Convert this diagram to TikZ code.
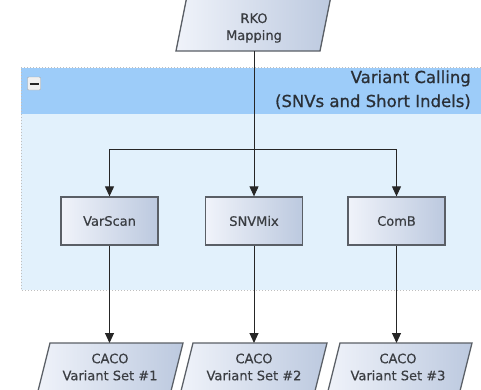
\documentclass[tikz,border=0pt]{standalone}
\usepackage{fontspec}
\setmainfont{DejaVu Sans}
\newfontfamily\hdrfont[FakeBold=0.8]{DejaVu Sans}
\newfontfamily\nodefont[FakeBold=0.4]{DejaVu Sans}
\usetikzlibrary{arrows.meta,calc}
\definecolor{hdr}{HTML}{9DCCF9}
\definecolor{bodyc}{HTML}{E2F1FC}
\definecolor{boxl}{HTML}{F0F3FA}
\definecolor{boxr}{HTML}{BCC9DF}
\definecolor{edge}{HTML}{5A5F66}
\definecolor{txt}{HTML}{3A3D42}
\definecolor{hdrtxt}{HTML}{2A2F36}
\tikzset{
  stepbox/.style={draw=edge, line width=1.3pt, left color=boxl, right color=boxr,
    minimum width=97pt, minimum height=48pt, inner sep=0pt,
    font=\nodefont\fontsize{13}{17}\selectfont, text=txt},
  paratext/.style={inner sep=0pt, align=center, font=\nodefont\fontsize{13}{17}\selectfont, text=txt},
  parashape/.style={draw=edge, line width=1.3pt, left color=boxl, right color=boxr},
  conn/.style={draw=black!85, line width=1pt},
  arr/.style={conn, -{Triangle[width=9pt,length=10pt]}},
  hdrtext/.style={inner sep=0pt, anchor=base east, font=\hdrfont\fontsize{16.5}{20}\selectfont, text=hdrtxt},
}
\begin{document}
\begin{tikzpicture}[x=1pt,y=-1pt]
\useasboundingbox (0,0) rectangle (481,389);
% group container
\fill[bodyc] (21,114) rectangle (490,290);
\fill[hdr] (21,68) rectangle (490,114);
\draw[gray!50, dotted, line width=1pt] (490,67) -- (21,67) -- (21,290) -- (490,290);
\node[draw=gray!70, fill=gray!12, rounded corners=1pt, minimum size=13pt, inner sep=0pt] (collapse) at (34,83.5) {};
\draw[line width=2pt, black!85] ($(collapse.center)+(-4.5,0)$) -- ($(collapse.center)+(4.5,0)$);
\node[hdrtext] (title1) at (471,83) {Variant Calling};
\node[hdrtext] (title2) at (471,107) {(SNVs and Short Indels)};
% RKO mapping
\path[parashape] (176,51) -- (320,51) -- (332.2,-10) -- (188.2,-10) -- cycle;
\node[paratext] (rko) at (254,28) {RKO\\Mapping};
\coordinate (rkoB) at (254,51);
% tools
\node[stepbox] (var) at (109.5,221) {VarScan};
\node[stepbox] (snv) at (254,221) {SNVMix};
\node[stepbox] (comb) at (396.5,221) {ComB};
\coordinate (split) at (254,149);
\draw[arr] (rkoB) -- (snv.north);
\draw[arr] (split) -| (var.north);
\draw[arr] (split) -| (comb.north);
% outputs
\path[parashape] (50,343) -- (183,343) -- (168.75,400) -- (35.75,400) -- cycle;
\path[parashape] (193,343) -- (327,343) -- (312.75,400) -- (178.75,400) -- cycle;
\path[parashape] (340,343) -- (472,343) -- (457.75,400) -- (325.75,400) -- cycle;
\node[paratext] (caco1) at (110,367) {CACO\\Variant Set \#1};
\node[paratext] (caco2) at (254,367) {CACO\\Variant Set \#2};
\node[paratext] (caco3) at (398,367) {CACO\\Variant Set \#3};
\coordinate (c1top) at (var.south |- 0,343);
\coordinate (c2top) at (snv.south |- 0,343);
\coordinate (c3top) at (comb.south |- 0,343);
\draw[arr] (var) -- (c1top);
\draw[arr] (snv) -- (c2top);
\draw[arr] (comb) -- (c3top);
\end{tikzpicture}
\end{document}
